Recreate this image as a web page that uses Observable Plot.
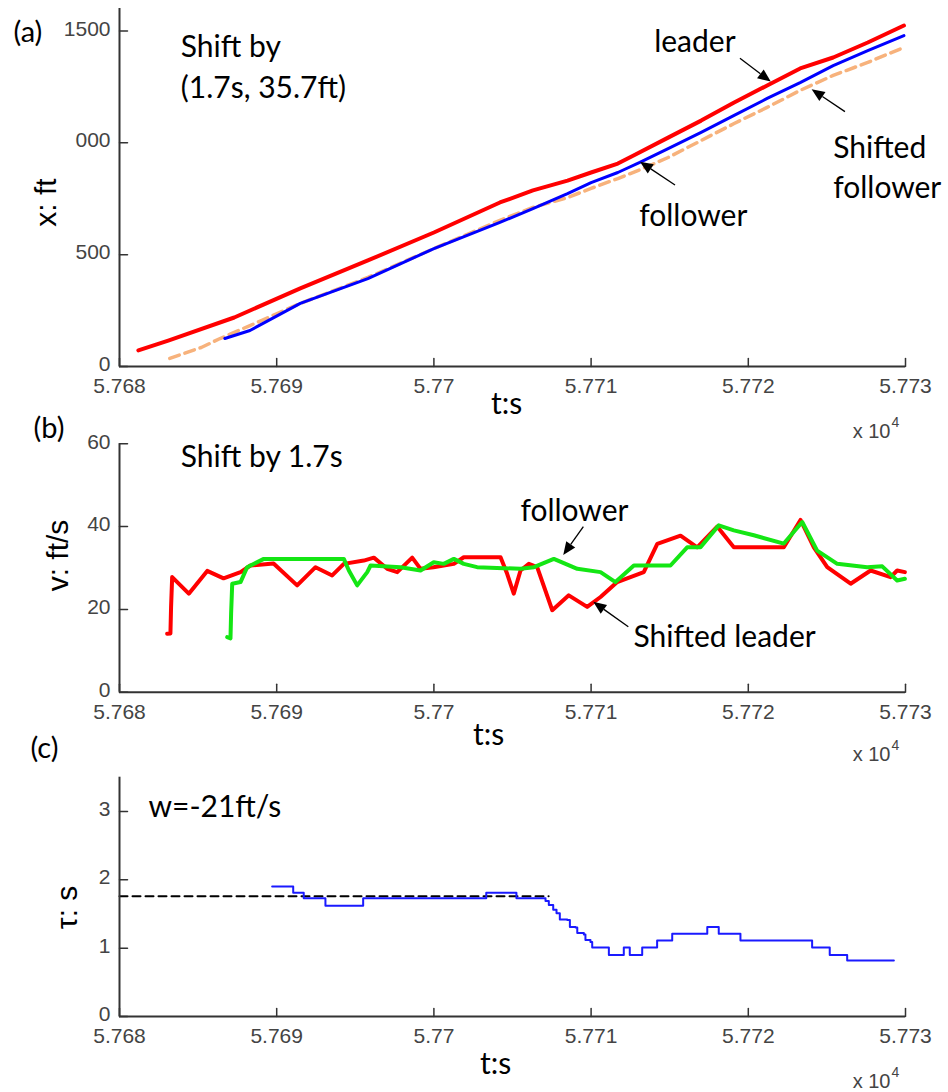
<!DOCTYPE html>
<html><head><meta charset="utf-8">
<script src="https://cdn.jsdelivr.net/npm/d3@7"></script>
<script src="https://cdn.jsdelivr.net/npm/@observablehq/plot@0.6"></script>
<style>
html,body{margin:0;padding:0;background:#fff;}
#chart{position:relative;width:948px;height:1092px;overflow:hidden;background:#fff;}
#chart svg{position:absolute;left:0;}
</style></head><body><div id="chart"></div>
<script>
// ---------- shared time axis (seconds; labels shown ×10^4) ----------
const tDomain = [57680, 57730];
const tTicks = [57680, 57690, 57700, 57710, 57720, 57730];
const tTickLabels = ["5.768", "5.769", "5.77", "5.771", "5.772", "5.773"];

// ---------- panel (a): trajectories x (ft) ----------
const aDomain = [0, 1600];
const aTicks = [0, 500, 1000, 1500];
const aTickLabels = ["0", "500", "000", "1500"];
const leaderT = [57681.2,57683.1,57687.3,57691.5,57695.8,57700.0,57704.2,57706.3,57708.5,57710.0,57711.7,57712.7,57714.9,57717.0,57719.1,57721.2,57723.3,57725.4,57727.6,57729.9];
const leaderX = [72,116,219,349,474,599,733,787,831,867,907,943,1023,1099,1180,1256,1332,1381,1448,1524];
const followerT = [57686.7,57688.3,57691.5,57695.8,57700.0,57704.2,57706.3,57708.5,57710.0,57711.7,57713.1,57714.9,57717.0,57719.1,57721.2,57723.3,57725.4,57727.6,57729.9];
const followerX = [125,161,282,393,527,644,706,773,822,867,912,974,1046,1122,1198,1269,1345,1412,1479];
const shiftedFollowerT = [57683.2,57685.2,57686.4,57688.3,57691.5,57695.8,57700.0,57704.2,57706.3,57708.5,57710.0,57711.7,57713.3,57714.9,57717.0,57719.1,57721.2,57723.3,57725.4,57727.6,57729.9];
const shiftedFollowerX = [36,85,125,183,282,398,527,653,711,755,796,840,885,934,1010,1086,1158,1234,1301,1359,1426];
const aNotesStart = [
  {t: 57683.9, v: 1382, s: "Shift by"},
  {t: 57683.9, v: 1198, s: "(1.7s, 35.7ft)"},
  {t: 57725.4, v: 930, s: "Shifted"},
  {t: 57725.4, v: 751, s: "follower"}
];
const aNotesMiddle = [
  {t: 57716.6, v: 1405, s: "leader"},
  {t: 57716.5, v: 626, s: "follower"}
];
const aArrows = [
  {t1: 57719.5, v1: 1375, t2: 57721.46, v2: 1271},
  {t1: 57715.37, v1: 809, t2: 57713.14, v2: 913},
  {t1: 57726.18, v1: 1137, t2: 57724.06, v2: 1237}
];

// ---------- panel (b): speeds v (ft/s) ----------
const bDomain = [0, 60];
const bTicks = [0, 20, 40, 60];
const bTickLabels = ["0", "20", "40", "60"];
const shiftedLeaderT = [57683.03,57683.24,57683.28,57683.35,57684.41,57685.58,57686.62,57687.70,57688.33,57689.80,57691.30,57692.47,57693.53,57694.27,57695.54,57696.18,57697.03,57697.67,57698.62,57699.15,57699.97,57701.27,57701.90,57704.24,57704.66,57705.08,57705.51,57706.04,57706.57,57707.53,57708.58,57709.75,57710.60,57711.66,57713.35,57714.21,57715.69,57716.75,57718.02,57719.08,57722.26,57723.32,57724.17,57725.02,57726.51,57727.78,57729.05,57729.47,57729.96];
const shiftedLeaderV = [14.1,14.2,20.5,27.8,23.8,29.3,27.5,29.0,30.6,31.1,25.8,30.2,28.2,31.0,31.8,32.5,29.8,29.0,32.5,29.8,30.2,31.0,32.6,32.6,28.6,23.8,29.4,31.0,30.2,19.8,23.4,20.6,23.0,26.6,29.0,35.8,37.8,35.0,40.0,35.0,35.0,41.6,35.0,30.2,26.2,29.4,27.8,29.4,29.0];
const followerVT = [57686.85,57687.06,57687.10,57687.17,57687.70,57688.12,57689.18,57694.27,57694.59,57695.12,57695.76,57695.97,57697.88,57699.15,57699.99,57700.63,57701.27,57701.90,57702.75,57705.51,57706.36,57707.63,57709.12,57710.60,57711.55,57712.72,57715.05,57716.11,57716.96,57718.12,57719.08,57720.35,57722.26,57723.43,57724.38,57725.66,57727.56,57728.52,57729.47,57729.96];
const followerV = [13.3,13.0,19.0,26.2,26.6,30.2,32.2,32.2,29.4,25.8,29.0,30.6,30.2,29.4,31.4,31.0,32.2,31.0,30.2,29.8,30.2,32.2,29.8,29.0,26.6,30.6,30.6,35.0,35.0,40.3,39.1,37.9,35.9,41.1,34.2,31.0,30.2,30.4,27.0,27.4];
const bNotesStart = [
  {t: 57683.9, v: 54.3, s: "Shift by 1.7s"},
  {t: 57712.7, v: 11.0, s: "Shifted leader"}
];
const bNotesMiddle = [
  {t: 57708.94, v: 41.3, s: "follower"}
];
const bArrows = [
  {t1: 57709.54, v1: 39.9, t2: 57708.26, v2: 33.0},
  {t1: 57712.40, v1: 15.7, t2: 57710.17, v2: 21.7}
];

// ---------- panel (c): tau (s) ----------
const cDomain = [0, 3.5];
const cTicks = [0, 1, 2, 3];
const cTickLabels = ["0", "1", "2", "3"];
const tauT = [57689.71,57691.05,57691.72,57693.10,57695.50,57703.33,57705.25,57707.10,57707.31,57707.59,57707.80,57708.01,57708.48,57708.65,57709.01,57709.12,57709.54,57709.64,57709.96,57710.07,57711.13,57712.08,57712.46,57713.25,57714.20,57715.16,57717.39,57718.12,57719.50,57724.06,57725.18,57726.29,57729.26];
const tauV = [1.90,1.81,1.73,1.62,1.73,1.81,1.73,1.69,1.63,1.56,1.51,1.42,1.41,1.31,1.30,1.22,1.20,1.12,1.09,1.01,0.90,1.01,0.90,1.01,1.11,1.21,1.31,1.21,1.11,1.01,0.90,0.82,0.82];
const dashT = [57680, 57707.3];
const dashV = [1.76, 1.76];
const cNotesStart = [{t: 57681.84, v: 2.92, s: "w=-21ft/s"}];

// ---------- helpers ----------
const AXIS = "#333";
const zip = (ts, vs) => ts.map((t, i) => ({t, v: vs[i]}));
const tickShape = {draw(ctx, l) { ctx.moveTo(0, 0); ctx.lineTo(0, -l); }};

function arrowMark(list) {
  return (index, scales) => {
    const g = d3.create("svg:g");
    for (const a of list) {
      const x1 = scales.x(a.t1), y1 = scales.y(a.v1), x2 = scales.x(a.t2), y2 = scales.y(a.v2);
      const ang = Math.atan2(y2 - y1, x2 - x1);
      const L = 13, W = 5.5;
      const bx = x2 - L * Math.cos(ang), by = y2 - L * Math.sin(ang);
      g.append("line").attr("x1", x1).attr("y1", y1).attr("x2", bx).attr("y2", by)
        .attr("stroke", "#000").attr("stroke-width", 1.3);
      g.append("path")
        .attr("d", `M${x2},${y2}L${bx + W * Math.sin(ang)},${by - W * Math.cos(ang)}L${bx - W * Math.sin(ang)},${by + W * Math.cos(ang)}Z`)
        .attr("fill", "#000");
    }
    return g.node();
  };
}

const NOTE = {fontFamily: "Lato, 'Open Sans', sans-serif", fontSize: 30, fill: "#000", lineAnchor: "bottom"};

function panel(o) {
  const svg = Plot.plot({
    width: 948, height: o.height,
    marginLeft: 119, marginRight: 43, marginTop: o.mt, marginBottom: o.mb,
    x: {domain: tDomain},
    y: {domain: o.yDomain},
    style: {background: "transparent", fontFamily: "'Liberation Sans', Arial, sans-serif", fontSize: "21px", color: "#444", overflow: "visible"},
    marks: [
      Plot.axisX(tTicks, {tickSize: 0, tickPadding: 12, tickFormat: d => tTickLabels[tTicks.indexOf(d)], label: null}),
      Plot.axisY(o.yTicks, {tickSize: 0, tickPadding: 9, dy: -2, tickFormat: d => o.yTickLabels[o.yTicks.indexOf(d)], label: null}),
      ...o.marks,
      Plot.ruleX([tDomain[0]], {stroke: AXIS, strokeWidth: 2}),
      Plot.ruleY([o.yDomain[0]], {stroke: AXIS, strokeWidth: 2}),
      Plot.vector(tTicks, {x: d => d, frameAnchor: "bottom", rotate: 0, length: 8, anchor: "start", shape: tickShape, stroke: AXIS, strokeWidth: 1.5}),
      Plot.vector(o.yTicks, {y: d => d, frameAnchor: "left", rotate: 90, length: 8, anchor: "start", shape: tickShape, stroke: AXIS, strokeWidth: 1.5}),
      Plot.text([o.letter], {text: d => d, frameAnchor: "top-left", dx: o.letterDx, dy: o.letterDy, textAnchor: "start", ...NOTE, fontSize: 29}),
      Plot.text([o.ylabel], {text: d => d, frameAnchor: "left", rotate: -90, dx: o.ylabelDx, dy: o.ylabelDy, textAnchor: "middle", lineAnchor: "bottom", fontFamily: "'Liberation Sans', Arial, sans-serif", fontSize: 30, fill: "#000"}),
      Plot.text(["t:s"], {text: d => d, frameAnchor: "bottom", dx: o.tlabelDx, dy: o.tlabelDy, textAnchor: "middle", ...NOTE}),
      Plot.text(["x 10"], {text: d => d, frameAnchor: "bottom-right", dx: -15, dy: o.expDy, textAnchor: "end", lineAnchor: "bottom", fontSize: 20, fill: "#444"}),
      Plot.text(["4"], {text: d => d, frameAnchor: "bottom-right", dx: -14, dy: o.expDy - 11, textAnchor: "start", lineAnchor: "bottom", fontSize: 14, fill: "#444"})
    ]
  });
  svg.style.top = o.top + "px";
  document.getElementById("chart").appendChild(svg);
}

// (a)
panel({
  top: 0, height: 445, mt: 8, mb: 79,
  yDomain: aDomain, yTicks: aTicks, yTickLabels: aTickLabels,
  letter: "(a)", letterDx: -106, letterDy: 33,
  ylabel: "x: ft", ylabelDx: -64, ylabelDy: 15,
  tlabelDx: -6, tlabelDy: 47, expDy: 71,
  marks: [
    Plot.line(zip(shiftedFollowerT, shiftedFollowerX), {x: "t", y: "v", stroke: "#f7b27c", strokeWidth: 3.5, strokeDasharray: "10,6"}),
    Plot.line(zip(followerT, followerX), {x: "t", y: "v", stroke: "#0000ff", strokeWidth: 3}),
    Plot.line(zip(leaderT, leaderX), {x: "t", y: "v", stroke: "#ff0000", strokeWidth: 4}),
    Plot.text(aNotesStart, {x: "t", y: "v", text: "s", textAnchor: "start", ...NOTE}),
    Plot.text(aNotesMiddle, {x: "t", y: "v", text: "s", textAnchor: "middle", ...NOTE}),
    arrowMark(aArrows)
  ]
});

// (b)
panel({
  top: 410, height: 360, mt: 33.3, mb: 78.3,
  yDomain: bDomain, yTicks: bTicks, yTickLabels: bTickLabels,
  letter: "(b)", letterDx: -86, letterDy: -6,
  ylabel: "v: ft/s", ylabelDx: -52, ylabelDy: -12.5,
  tlabelDx: -24, tlabelDy: 53, expDy: 69,
  marks: [
    Plot.line(zip(shiftedLeaderT, shiftedLeaderV), {x: "t", y: "v", stroke: "#ff0000", strokeWidth: 4}),
    Plot.line(zip(followerVT, followerV), {x: "t", y: "v", stroke: "#14e614", strokeWidth: 4}),
    Plot.text(bNotesStart, {x: "t", y: "v", text: "s", textAnchor: "start", ...NOTE}),
    Plot.text(bNotesMiddle, {x: "t", y: "v", text: "s", textAnchor: "middle", ...NOTE}),
    arrowMark(bArrows)
  ]
});

// (c)
panel({
  top: 735, height: 357, mt: 41.7, mb: 76,
  yDomain: cDomain, yTicks: cTicks, yTickLabels: cTickLabels,
  letter: "(c)", letterDx: -89, letterDy: -19,
  ylabel: "τ: s", ylabelDx: -43, ylabelDy: 10.6,
  tlabelDx: -17, tlabelDy: 57, expDy: 71,
  marks: [
    Plot.line(zip(dashT, dashV), {x: "t", y: "v", stroke: "#000", strokeWidth: 2, strokeDasharray: "8,5"}),
    Plot.line(zip(tauT, tauV), {x: "t", y: "v", curve: "step-after", stroke: "#1a1aff", strokeWidth: 2}),
    Plot.text(cNotesStart, {x: "t", y: "v", text: "s", textAnchor: "start", ...NOTE})
  ]
});
</script></body></html>
